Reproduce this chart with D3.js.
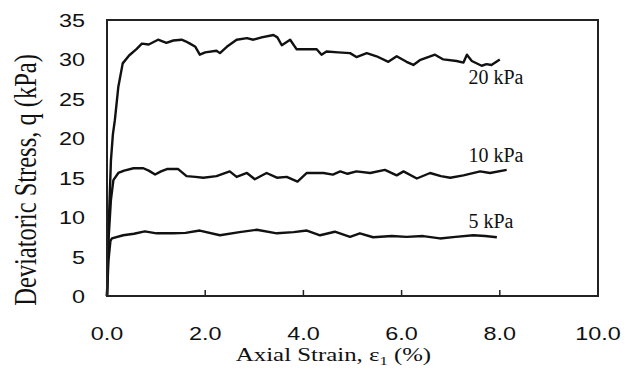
<!DOCTYPE html>
<head>
<meta charset="utf-8">
<script src="https://d3js.org/d3.v7.min.js"></script>
<style>
  body { margin: 0; background: #fff; }
  .tick-label { font: 18px "Liberation Sans", Arial, sans-serif; fill: #111; }
  .title { font-family: "Liberation Serif", "Times New Roman", serif; fill: #111; }
  .curve { fill: none; stroke: #111; stroke-width: 2.4px; stroke-linejoin: round; }
  .frame { fill: none; stroke: #222; stroke-width: 2px; }
</style>
</head>
<body>
<script>

var xTicks = [0, 2, 4, 6, 8, 10];
var yTicks = [0, 5, 10, 15, 20, 25, 30, 35];

// 20 kPa
var strain20 = [0, 0.03, 0.08, 0.12, 0.16, 0.23, 0.32, 0.45, 0.6, 0.71, 0.85, 1.04, 1.21, 1.35, 1.52, 1.6, 1.69, 1.8, 1.89, 2.0, 2.23, 2.30, 2.44, 2.64, 2.85, 2.98, 3.15, 3.39, 3.47, 3.56, 3.73, 3.86, 4.0, 4.2, 4.27, 4.37, 4.47, 4.71, 4.95, 5.08, 5.29, 5.49, 5.73, 5.9, 6.1, 6.24, 6.37, 6.68, 6.85, 7.12, 7.26, 7.33, 7.43, 7.63, 7.73, 7.83, 8.0];
var stress20 = [0, 8, 17.2, 20.5, 22.3, 26.5, 29.5, 30.5, 31.3, 32.0, 31.9, 32.5, 32.1, 32.4, 32.5, 32.3, 32.0, 31.6, 30.6, 30.9, 31.1, 30.8, 31.6, 32.5, 32.7, 32.5, 32.8, 33.1, 32.8, 31.8, 32.5, 31.3, 31.3, 31.3, 31.3, 30.6, 31.0, 30.9, 30.8, 30.3, 30.8, 30.4, 29.7, 30.4, 29.7, 29.3, 29.9, 30.6, 30.0, 29.8, 29.6, 30.6, 29.8, 29.2, 29.4, 29.3, 30.0];

// 10 kPa
var strain10 = [0, 0.03, 0.08, 0.13, 0.23, 0.35, 0.54, 0.74, 0.85, 0.98, 1.1, 1.22, 1.45, 1.62, 1.8, 1.96, 2.23, 2.5, 2.64, 2.85, 3.01, 3.25, 3.46, 3.66, 3.88, 4.07, 4.41, 4.6, 4.75, 4.9, 5.08, 5.36, 5.66, 5.9, 6.04, 6.31, 6.58, 6.8, 6.99, 7.26, 7.6, 7.8, 8.14];
var stress10 = [0, 7, 12.2, 14.7, 15.6, 15.9, 16.2, 16.2, 15.9, 15.4, 15.8, 16.1, 16.1, 15.2, 15.1, 15.0, 15.2, 15.8, 15.1, 15.6, 14.8, 15.6, 15.0, 15.1, 14.5, 15.6, 15.6, 15.4, 15.8, 15.5, 15.8, 15.6, 16.0, 15.3, 15.8, 14.9, 15.6, 15.2, 15.0, 15.3, 15.8, 15.6, 16.0];

// 5 kPa
var strain5 = [0, 0.03, 0.07, 0.1, 0.33, 0.55, 0.77, 1.01, 1.35, 1.6, 1.89, 2.3, 2.7, 3.05, 3.46, 3.8, 4.07, 4.34, 4.64, 4.95, 5.15, 5.42, 5.8, 6.1, 6.44, 6.78, 7.1, 7.46, 7.7, 7.94];
var stress5 = [0, 4.5, 7.0, 7.3, 7.7, 7.9, 8.2, 7.95, 7.95, 8.0, 8.3, 7.7, 8.1, 8.4, 7.95, 8.1, 8.3, 7.7, 8.15, 7.5, 7.95, 7.45, 7.6, 7.5, 7.6, 7.3, 7.5, 7.7, 7.6, 7.45];

var seriesLabels = ["20 kPa", "10 kPa", "5 kPa"];

var margin = {top: 20, right: 36, bottom: 77, left: 107},
    width = 634 - margin.left - margin.right,
    height = 373 - margin.top - margin.bottom;

var x = d3.scaleLinear().domain([0, 10]).range([0, width]);
var y = d3.scaleLinear().domain([0, 35]).range([height, 0]);

var svg = d3.select("body").append("svg")
    .attr("width", 634)
    .attr("height", 373)
  .append("g")
    .attr("transform", "translate(" + margin.left + "," + margin.top + ")");

var line = d3.line()
    .x(function(d) { return x(d[0]); })
    .y(function(d) { return y(d[1]); });

var series = [
  {xs: strain20, ys: stress20, label: seriesLabels[0], at: 26.9},
  {xs: strain10, ys: stress10, label: seriesLabels[1], at: 17.0},
  {xs: strain5, ys: stress5, label: seriesLabels[2], at: 8.6}
];

series.forEach(function(s) {
  svg.append("path")
      .attr("class", "curve")
      .attr("d", line(d3.zip(s.xs, s.ys)));
  svg.append("text")
      .attr("class", "title")
      .attr("x", x(7.36))
      .attr("y", y(s.at))
      .style("font-size", "20px")
      .text(s.label);
});

// inner ticks on x axis
svg.append("g")
    .selectAll("line")
    .data(xTicks.slice(1, -1))
    .enter().append("line")
    .attr("x1", function(d) { return x(d); })
    .attr("x2", function(d) { return x(d); })
    .attr("y1", height)
    .attr("y2", height - 6)
    .attr("stroke", "#222")
    .attr("stroke-width", 1.5);

svg.append("rect")
    .attr("class", "frame")
    .attr("width", width)
    .attr("height", height);

svg.append("g")
    .selectAll("text")
    .data(xTicks)
    .enter().append("text")
    .attr("class", "tick-label")
    .attr("text-anchor", "middle")
    .attr("transform", function(d) { return "translate(" + x(d) + "," + (height + 44) + ") scale(1.3,1)"; })
    .text(function(d) { return d3.format(".1f")(d); });

svg.append("g")
    .selectAll("text")
    .data(yTicks)
    .enter().append("text")
    .attr("class", "tick-label")
    .attr("text-anchor", "end")
    .attr("transform", function(d) { return "translate(-22," + (y(d) + 7) + ") scale(1.3,1)"; })
    .text(function(d) { return d; });

var xt = svg.append("text")
    .attr("class", "title")
    .attr("text-anchor", "middle")
    .attr("transform", "translate(" + (width / 2 - 19) + "," + (height + 65) + ") scale(1.38,1)")
    .style("font-size", "18px");
xt.append("tspan").text("Axial Strain, ε");
xt.append("tspan").attr("dy", 4).style("font-size", "12px").text("1");
xt.append("tspan").attr("dy", -4).text(" (%)");

svg.append("text")
    .attr("class", "title")
    .attr("text-anchor", "middle")
    .attr("transform", "translate(" + (-71) + "," + (height / 2 + 22) + ") scale(1.25,1) rotate(-90)")
    .style("font-size", "24.5px")
    .text("Deviatoric Stress, q (kPa)");
</script>
</body>
